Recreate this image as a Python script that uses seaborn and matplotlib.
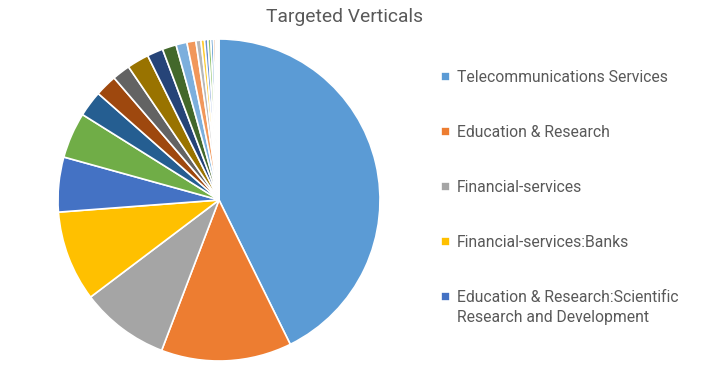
import matplotlib
matplotlib.use("Agg")
import matplotlib.pyplot as plt
import seaborn as sns

# slice shares (%) read clockwise from 12 o'clock
shares = [42.7, 13.1, 8.9, 9.1, 5.5, 4.6, 2.6, 2.2, 1.8, 2.2, 1.6, 1.4,
          1.1, 0.9, 0.5, 0.36, 0.33, 0.3, 0.25, 0.2, 0.15, 0.12, 0.09]
colors = ["#5B9BD5", "#ED7D31", "#A5A5A5", "#FFC000", "#4472C4", "#70AD47",
          "#255E91", "#9E480E", "#636363", "#997300", "#264478", "#43682B",
          "#7CAFDD", "#F1975A", "#B7B7B7", "#FFCD33", "#698ED0", "#8CC168",
          "#327DC2", "#D26012", "#848484", "#CC9A00", "#335AA1"]
legend_labels = ["Telecommunications Services",
                 "Education & Research",
                 "Financial-services",
                 "Financial-services:Banks",
                 "Education & Research:Scientific"]
last_label_line2 = "Research and Development"

sns.set_theme(style="white")
plt.rcParams['font.family'] = ['Roboto', 'DejaVu Sans']
palette = sns.color_palette(colors)

fig = plt.figure(figsize=(7.1, 3.77), dpi=100)
ax = fig.add_axes([58 / 710, 16 / 377, 322 / 710, 322 / 377])
wedges, _ = ax.pie(shares, colors=palette, startangle=90, counterclock=False,
                   radius=1, wedgeprops=dict(edgecolor="white", linewidth=1.2))
ax.set_xlim(-1, 1)
ax.set_ylim(-1, 1)
ax.set_aspect("equal")

fig.text(345 / 710, 1 - 17 / 377, "Targeted Verticals", ha="center", va="center",
         fontsize=13.9, color="#595959")

leg = fig.legend(wedges[:5], legend_labels, loc="upper left",
                 bbox_to_anchor=(427 / 710, 1 - 56 / 377), frameon=False,
                 fontsize=11.3, labelcolor="#595959", handlelength=0.55,
                 handleheight=0.55, handletextpad=0.45, labelspacing=2.55)

# second line of the last legend entry
fig.canvas.draw()
bb = leg.get_texts()[-1].get_window_extent()
fig.text(bb.x0 / 710, (bb.y0 - 20) / 377, last_label_line2, fontsize=11.3,
         color="#595959", ha="left", va="bottom")

fig.savefig("out.png", dpi=100)
